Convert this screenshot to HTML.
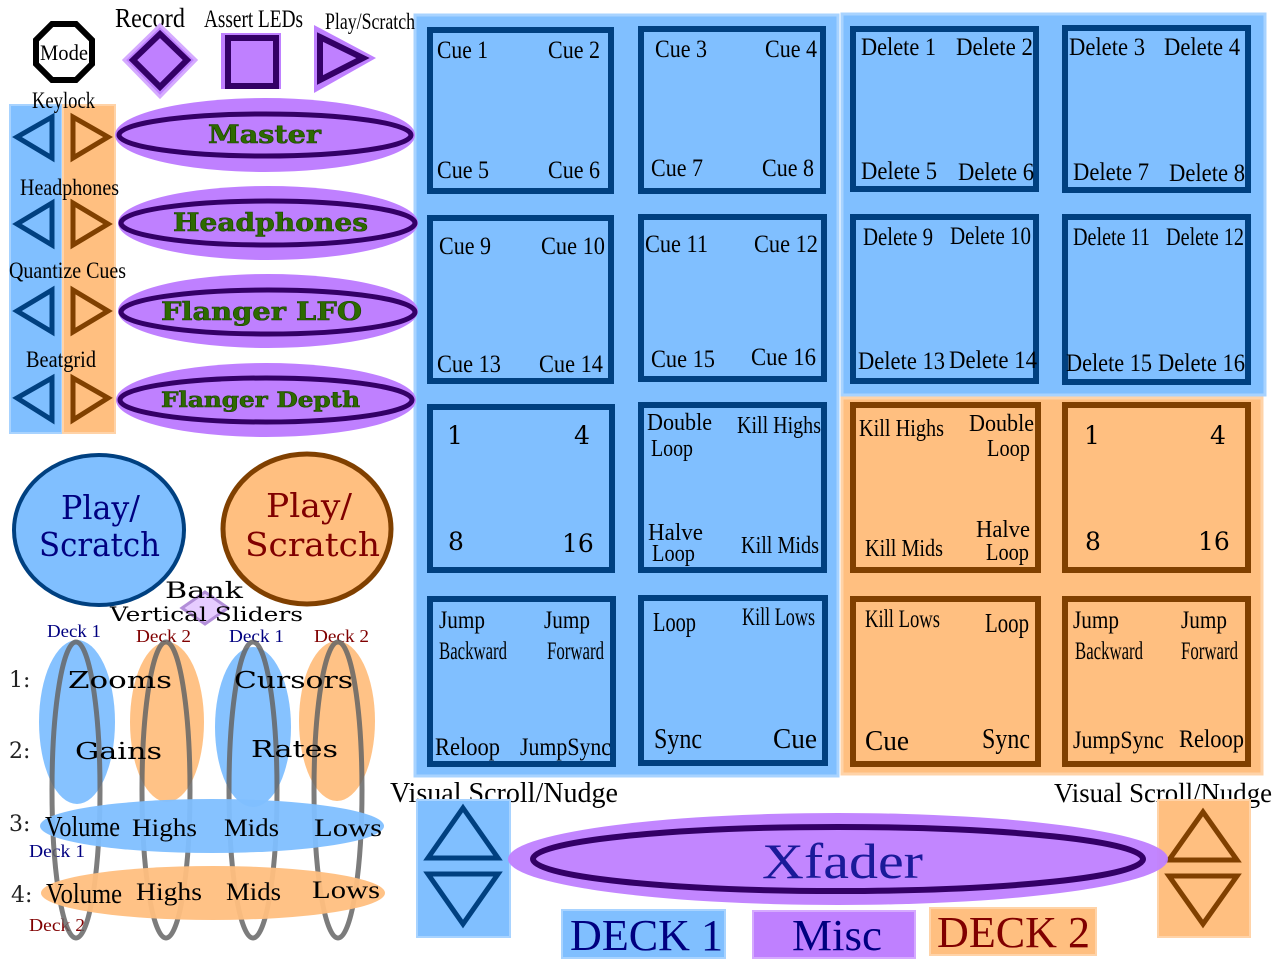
<!DOCTYPE html>
<html><head><meta charset="utf-8"><style>
html,body{margin:0;padding:0;background:#fff;width:1280px;height:960px;overflow:hidden}
</style></head><body>
<svg width="1280" height="960" viewBox="0 0 1280 960" xmlns="http://www.w3.org/2000/svg" font-family="Liberation Serif, serif">
<rect x="415" y="15" width="423" height="761" fill="#80bfff" stroke="#a8d3ff" stroke-width="3"/>
<rect x="842" y="14" width="423" height="381" fill="#80bfff" stroke="#a8d3ff" stroke-width="3"/>
<rect x="842" y="398" width="420" height="376" fill="#ffbf80" stroke="#ffd3a8" stroke-width="3"/>
<g fill="#80bfff" stroke="#004080" stroke-width="6">
<rect x="430" y="30" width="181" height="161"/><rect x="641" y="29" width="182" height="162"/>
<rect x="430" y="218" width="181" height="163"/><rect x="641" y="217" width="183" height="162"/>
<rect x="430" y="407" width="182" height="163"/><rect x="641" y="405" width="183" height="165"/>
<rect x="430" y="599" width="183" height="165"/><rect x="641" y="598" width="184" height="165"/>
<rect x="853" y="29" width="183" height="160"/><rect x="1065" y="28" width="183" height="162"/>
<rect x="853" y="217" width="183" height="164"/><rect x="1065" y="217" width="183" height="165"/>
</g>
<g fill="#ffbf80" stroke="#804000" stroke-width="6">
<rect x="853" y="405" width="185" height="165"/><rect x="1065" y="405" width="183" height="165"/>
<rect x="853" y="599" width="185" height="165"/><rect x="1065" y="599" width="183" height="165"/>
</g>
<g font-size="25" fill="#000" lengthAdjust="spacingAndGlyphs">
<text x="437" y="58" textLength="51" lengthAdjust="spacingAndGlyphs">Cue 1</text><text x="548" y="58" textLength="52" lengthAdjust="spacingAndGlyphs">Cue 2</text>
<text x="437" y="178" textLength="52" lengthAdjust="spacingAndGlyphs">Cue 5</text><text x="548" y="178" textLength="52" lengthAdjust="spacingAndGlyphs">Cue 6</text>
<text x="655" y="57" textLength="52" lengthAdjust="spacingAndGlyphs">Cue 3</text><text x="765" y="57" textLength="52" lengthAdjust="spacingAndGlyphs">Cue 4</text>
<text x="651" y="176" textLength="52" lengthAdjust="spacingAndGlyphs">Cue 7</text><text x="762" y="176" textLength="52" lengthAdjust="spacingAndGlyphs">Cue 8</text>
<text x="439" y="254" textLength="52" lengthAdjust="spacingAndGlyphs">Cue 9</text><text x="541" y="254" textLength="64" lengthAdjust="spacingAndGlyphs">Cue 10</text>
<text x="437" y="372" textLength="64" lengthAdjust="spacingAndGlyphs">Cue 13</text><text x="539" y="372" textLength="64" lengthAdjust="spacingAndGlyphs">Cue 14</text>
<text x="645" y="252" textLength="63" lengthAdjust="spacingAndGlyphs">Cue 11</text><text x="754" y="252" textLength="64" lengthAdjust="spacingAndGlyphs">Cue 12</text>
<text x="651" y="367" textLength="64" lengthAdjust="spacingAndGlyphs">Cue 15</text><text x="751" y="365" textLength="65" lengthAdjust="spacingAndGlyphs">Cue 16</text>
<text x="861" y="55" textLength="75" lengthAdjust="spacingAndGlyphs">Delete 1</text><text x="956" y="55" textLength="77" lengthAdjust="spacingAndGlyphs">Delete 2</text>
<text x="861" y="179" textLength="76" lengthAdjust="spacingAndGlyphs">Delete 5</text><text x="958" y="180" textLength="76" lengthAdjust="spacingAndGlyphs">Delete 6</text>
<text x="1069" y="55" textLength="76" lengthAdjust="spacingAndGlyphs">Delete 3</text><text x="1164" y="55" textLength="76" lengthAdjust="spacingAndGlyphs">Delete 4</text>
<text x="1073" y="180" textLength="76" lengthAdjust="spacingAndGlyphs">Delete 7</text><text x="1169" y="181" textLength="76" lengthAdjust="spacingAndGlyphs">Delete 8</text>
<text x="863" y="245" textLength="70" lengthAdjust="spacingAndGlyphs">Delete 9</text><text x="950" y="244" textLength="81" lengthAdjust="spacingAndGlyphs">Delete 10</text>
<text x="858" y="369" textLength="87" lengthAdjust="spacingAndGlyphs">Delete 13</text><text x="949" y="368" textLength="88" lengthAdjust="spacingAndGlyphs">Delete 14</text>
<text x="1073" y="245" textLength="77" lengthAdjust="spacingAndGlyphs">Delete 11</text><text x="1166" y="245" textLength="78" lengthAdjust="spacingAndGlyphs">Delete 12</text>
<text x="1066" y="371" textLength="86" lengthAdjust="spacingAndGlyphs">Delete 15</text><text x="1158" y="371" textLength="87" lengthAdjust="spacingAndGlyphs">Delete 16</text>
<text x="647" y="430" font-size="24" textLength="65" lengthAdjust="spacingAndGlyphs">Double</text><text x="651" y="456" font-size="24" textLength="42" lengthAdjust="spacingAndGlyphs">Loop</text>
<text x="737" y="433" font-size="24" textLength="84" lengthAdjust="spacingAndGlyphs">Kill Highs</text>
<text x="648" y="540" font-size="24" textLength="55" lengthAdjust="spacingAndGlyphs">Halve</text><text x="652" y="561" font-size="24" textLength="43" lengthAdjust="spacingAndGlyphs">Loop</text>
<text x="741" y="553" font-size="24" textLength="78" lengthAdjust="spacingAndGlyphs">Kill Mids</text>
<text x="439" y="628" textLength="46" lengthAdjust="spacingAndGlyphs">Jump</text><text x="439" y="659" textLength="68" lengthAdjust="spacingAndGlyphs">Backward</text>
<text x="544" y="628" textLength="46" lengthAdjust="spacingAndGlyphs">Jump</text><text x="547" y="659" textLength="57" lengthAdjust="spacingAndGlyphs">Forward</text>
<text x="435" y="755" textLength="65" lengthAdjust="spacingAndGlyphs">Reloop</text><text x="520" y="755" textLength="91" lengthAdjust="spacingAndGlyphs">JumpSync</text>
<text x="653" y="631" font-size="27" textLength="43" lengthAdjust="spacingAndGlyphs">Loop</text><text x="742" y="625" textLength="73" lengthAdjust="spacingAndGlyphs">Kill Lows</text>
<text x="654" y="748" font-size="29" textLength="48" lengthAdjust="spacingAndGlyphs">Sync</text><text x="773" y="748" font-size="29" textLength="44" lengthAdjust="spacingAndGlyphs">Cue</text>
<text x="859" y="436" font-size="24" textLength="85" lengthAdjust="spacingAndGlyphs">Kill Highs</text>
<text x="969" y="431" font-size="24" textLength="65" lengthAdjust="spacingAndGlyphs">Double</text><text x="987" y="456" font-size="24" textLength="43" lengthAdjust="spacingAndGlyphs">Loop</text>
<text x="865" y="556" font-size="24" textLength="78" lengthAdjust="spacingAndGlyphs">Kill Mids</text>
<text x="976" y="537" font-size="24" textLength="54" lengthAdjust="spacingAndGlyphs">Halve</text><text x="986" y="560" font-size="24" textLength="43" lengthAdjust="spacingAndGlyphs">Loop</text>
<text x="865" y="627" textLength="75" lengthAdjust="spacingAndGlyphs">Kill Lows</text><text x="985" y="632" font-size="27" textLength="44" lengthAdjust="spacingAndGlyphs">Loop</text>
<text x="865" y="750" font-size="29" textLength="44" lengthAdjust="spacingAndGlyphs">Cue</text><text x="982" y="748" font-size="29" textLength="48" lengthAdjust="spacingAndGlyphs">Sync</text>
<text x="1073" y="628" textLength="46" lengthAdjust="spacingAndGlyphs">Jump</text><text x="1075" y="659" textLength="68" lengthAdjust="spacingAndGlyphs">Backward</text>
<text x="1181" y="628" textLength="46" lengthAdjust="spacingAndGlyphs">Jump</text><text x="1181" y="659" textLength="57" lengthAdjust="spacingAndGlyphs">Forward</text>
<text x="1073" y="748" textLength="91" lengthAdjust="spacingAndGlyphs">JumpSync</text><text x="1179" y="747" textLength="65" lengthAdjust="spacingAndGlyphs">Reloop</text>
</g>
<g font-family="DejaVu Serif, serif" font-size="25" fill="#000">
<text x="447" y="444">1</text><text x="574" y="444">4</text><text x="448" y="550">8</text><text x="562" y="552">16</text>
<text x="1084" y="444">1</text><text x="1210" y="444">4</text><text x="1085" y="550">8</text><text x="1198" y="550">16</text>
</g>
<polygon points="52,24 76,24 92,40 92,64 76,80 52,80 36,64 36,40" fill="#fff" stroke="#000" stroke-width="6"/>
<text x="40" y="60" font-size="22" textLength="48" lengthAdjust="spacingAndGlyphs">Mode</text>
<text x="115" y="27" font-size="27" textLength="70" lengthAdjust="spacingAndGlyphs">Record</text>
<text x="204" y="27" font-size="25" textLength="99" lengthAdjust="spacingAndGlyphs">Assert LEDs</text>
<text x="325" y="29" font-size="23" textLength="90" lengthAdjust="spacingAndGlyphs">Play/Scratch</text>
<polygon points="160,25 196,60 160,97 124,60" fill="#bf80ff" stroke="#d5aaff" stroke-width="3"/>
<polygon points="160,34 187,60 160,87 133,60" fill="#bf80ff" stroke="#330066" stroke-width="6"/>
<rect x="221" y="33" width="60" height="56" fill="#bf80ff"/>
<rect x="228" y="38" width="48" height="48" fill="#bf80ff" stroke="#330066" stroke-width="6"/>
<polygon points="314,25 376,58 314,93" fill="#bf80ff"/>
<polygon points="320,37 363,58 320,80" fill="#bf80ff" stroke="#330066" stroke-width="6"/>
<rect x="10" y="105" width="52" height="328" fill="#80bfff" stroke="#a8d3ff" stroke-width="2"/>
<rect x="63" y="105" width="52" height="328" fill="#ffbf80" stroke="#ffd3a8" stroke-width="2"/>
<g fill="none" stroke-width="5">
<g stroke="#004080"><polygon points="52,117 52,158 17,137"/><polygon points="52,203 52,245 17,224"/><polygon points="52,290 52,332 17,311"/><polygon points="52,378 52,420 17,398"/></g>
<g stroke="#804000"><polygon points="73,117 73,158 108,137"/><polygon points="73,203 73,245 108,224"/><polygon points="73,290 73,332 108,311"/><polygon points="73,378 73,420 108,398"/></g>
</g>
<g font-size="23"><text x="32" y="108" textLength="63" lengthAdjust="spacingAndGlyphs">Keylock</text><text x="20" y="195" textLength="99" lengthAdjust="spacingAndGlyphs">Headphones</text><text x="9" y="278" textLength="117" lengthAdjust="spacingAndGlyphs">Quantize Cues</text><text x="26" y="367" textLength="70" lengthAdjust="spacingAndGlyphs">Beatgrid</text></g>
<g fill="#bf80ff">
<ellipse cx="265" cy="135" rx="150" ry="37"/><ellipse cx="268" cy="223" rx="150" ry="37"/><ellipse cx="268" cy="311" rx="150" ry="37"/><ellipse cx="266" cy="400" rx="150" ry="37"/>
</g>
<g fill="none" stroke="#330066" stroke-width="5">
<ellipse cx="265" cy="135" rx="146" ry="21"/><ellipse cx="268" cy="223" rx="147" ry="22"/><ellipse cx="268" cy="312" rx="147" ry="22"/><ellipse cx="266" cy="400" rx="146" ry="22"/>
</g>
<g font-family="DejaVu Serif, serif" font-weight="bold" fill="#2d6a00" stroke="#1a3d00" stroke-width="0.6">
<text x="208" y="143" font-size="25" textLength="113" lengthAdjust="spacingAndGlyphs">Master</text>
<text x="173" y="231" font-size="25" textLength="195" lengthAdjust="spacingAndGlyphs">Headphones</text>
<text x="161" y="320" font-size="25" textLength="201" lengthAdjust="spacingAndGlyphs">Flanger LFO</text>
<text x="161" y="407" font-size="21" textLength="199" lengthAdjust="spacingAndGlyphs">Flanger Depth</text>
</g>
<ellipse cx="99" cy="530" rx="85" ry="75" fill="#80bfff" stroke="#004080" stroke-width="4"/>
<ellipse cx="307" cy="529" rx="84" ry="75" fill="#ffbf80" stroke="#804000" stroke-width="5"/>
<g font-family="DejaVu Serif, serif" font-size="33">
<text x="61" y="519" fill="#000080" textLength="79" lengthAdjust="spacingAndGlyphs">Play/</text><text x="39" y="556" fill="#000080" textLength="121" lengthAdjust="spacingAndGlyphs">Scratch</text>
<text x="266" y="517" fill="#800000" textLength="86" lengthAdjust="spacingAndGlyphs">Play/</text><text x="245" y="556" fill="#800000" textLength="135" lengthAdjust="spacingAndGlyphs">Scratch</text>
</g>
<polygon points="205,592 228,608 205,624 182,608" fill="#e6ccff" stroke="#b38fd9" stroke-width="3"/>
<g font-family="DejaVu Serif, serif"><text x="165" y="598" font-size="22" textLength="78" lengthAdjust="spacingAndGlyphs">Bank</text><text x="110" y="621" font-size="20" textLength="193" lengthAdjust="spacingAndGlyphs">Vertical Sliders</text></g>
<g font-size="18"><text x="47" y="637" fill="#000080" textLength="54" lengthAdjust="spacingAndGlyphs">Deck 1</text><text x="136" y="642" fill="#800000" textLength="55" lengthAdjust="spacingAndGlyphs">Deck 2</text><text x="229" y="642" fill="#000080" textLength="55" lengthAdjust="spacingAndGlyphs">Deck 1</text><text x="314" y="642" fill="#800000" textLength="55" lengthAdjust="spacingAndGlyphs">Deck 2</text>
<text x="29" y="857" fill="#000080" textLength="56" lengthAdjust="spacingAndGlyphs">Deck 1</text><text x="29" y="931" fill="#800000" textLength="56" lengthAdjust="spacingAndGlyphs">Deck 2</text></g>
<g opacity="0.95">
<ellipse cx="77" cy="722" rx="38" ry="82" fill="#80bfff"/><ellipse cx="167" cy="722" rx="37" ry="80" fill="#ffbf80"/>
<ellipse cx="253" cy="727" rx="38" ry="80" fill="#80bfff"/><ellipse cx="337" cy="721" rx="38" ry="80" fill="#ffbf80"/>
</g>
<g fill="none" stroke="#666" stroke-width="5" opacity="0.85">
<ellipse cx="76" cy="790" rx="24" ry="148"/><ellipse cx="166" cy="790" rx="24" ry="148"/><ellipse cx="253" cy="790" rx="24" ry="148"/><ellipse cx="338" cy="790" rx="24" ry="148"/>
</g>
<ellipse cx="212" cy="826" rx="172" ry="27" fill="#80bfff" opacity="0.95"/>
<ellipse cx="213" cy="893" rx="172" ry="27" fill="#ffbf80" opacity="0.95"/>
<g font-family="DejaVu Serif, serif" font-size="22" fill="#222"><text x="9" y="687">1:</text><text x="9" y="758">2:</text><text x="9" y="831">3:</text><text x="11" y="902">4:</text></g>
<g font-family="DejaVu Serif, serif" font-size="23"><text x="68" y="688" textLength="104" lengthAdjust="spacingAndGlyphs">Zooms</text><text x="234" y="688" textLength="119" lengthAdjust="spacingAndGlyphs">Cursors</text><text x="75" y="759" textLength="87" lengthAdjust="spacingAndGlyphs">Gains</text><text x="251" y="757" textLength="87" lengthAdjust="spacingAndGlyphs">Rates</text></g>
<g font-size="25"><text x="45" y="836" font-size="29" textLength="75" lengthAdjust="spacingAndGlyphs">Volume</text><text x="132" y="836" textLength="65" lengthAdjust="spacingAndGlyphs">Highs</text><text x="224" y="836" textLength="55" lengthAdjust="spacingAndGlyphs">Mids</text><text x="314" y="836" textLength="68" lengthAdjust="spacingAndGlyphs">Lows</text>
<text x="46" y="903" font-size="29" textLength="76" lengthAdjust="spacingAndGlyphs">Volume</text><text x="136" y="900" textLength="66" lengthAdjust="spacingAndGlyphs">Highs</text><text x="226" y="900" textLength="55" lengthAdjust="spacingAndGlyphs">Mids</text><text x="312" y="898" textLength="68" lengthAdjust="spacingAndGlyphs">Lows</text></g>
<text x="390" y="802" font-size="29" textLength="228" lengthAdjust="spacingAndGlyphs">Visual Scroll/Nudge</text>
<text x="1054" y="802" font-size="27" textLength="218" lengthAdjust="spacingAndGlyphs">Visual Scroll/Nudge</text>
<rect x="417" y="800" width="93" height="137" fill="#80bfff" stroke="#a8d3ff" stroke-width="2"/>
<rect x="1158" y="800" width="92" height="137" fill="#ffbf80" stroke="#ffd3a8" stroke-width="2"/>
<g fill="none" stroke-width="5">
<polygon stroke="#004080" points="463,808 498,858 428,858"/><polygon stroke="#004080" points="428,874 498,874 463,924"/>
<polygon stroke="#804000" points="1203,812 1237,860 1169,860"/><polygon stroke="#804000" points="1169,876 1237,876 1203,924"/>
</g>
<ellipse cx="838" cy="859" rx="330" ry="46" fill="#bf80ff" opacity="0.95"/>
<ellipse cx="838" cy="859" rx="305" ry="32" fill="none" stroke="#330066" stroke-width="6"/>
<text x="762" y="878" font-size="50" fill="#1a1a99" textLength="161" lengthAdjust="spacingAndGlyphs">Xfader</text>
<rect x="562" y="910" width="163" height="48" fill="#80bfff" stroke="#a8d3ff" stroke-width="2"/>
<rect x="753" y="911" width="162" height="47" fill="#bf80ff" stroke="#d5aaff" stroke-width="2"/>
<rect x="930" y="908" width="166" height="47" fill="#ffbf80" stroke="#ffd3a8" stroke-width="2"/>
<g font-size="44"><text x="570" y="950" fill="#000080" textLength="153" lengthAdjust="spacingAndGlyphs">DECK 1</text><text x="792" y="950" fill="#000080" textLength="90" lengthAdjust="spacingAndGlyphs">Misc</text><text x="937" y="947" fill="#800000" textLength="153" lengthAdjust="spacingAndGlyphs">DECK 2</text></g>
</svg>
</body></html>
